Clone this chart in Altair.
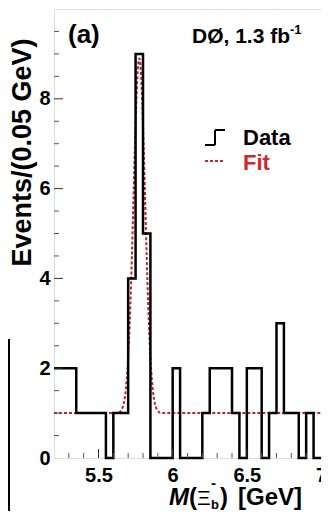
import altair as alt
import pandas as pd

# ---------------- data ----------------
bin_lo = [5.20, 5.25, 5.30, 5.35, 5.40, 5.45, 5.50, 5.55, 5.60, 5.65, 5.70, 5.75,
          5.80, 5.85, 5.90, 5.95, 6.00, 6.05, 6.10, 6.15, 6.20, 6.25, 6.30, 6.35,
          6.40, 6.45, 6.50, 6.55, 6.60, 6.65, 6.70, 6.75, 6.80, 6.85, 6.90, 6.95]
counts = [2, 2, 2, 1, 1, 1, 1, 0, 1, 1, 4, 9, 5, 0, 0, 0, 2, 0, 0, 0, 1, 2, 2, 2,
          1, 0, 2, 2, 0, 1, 3, 1, 1, 0, 1, 0]
x_end = 7.00

fit_x = [5.20, 5.60, 5.635, 5.645, 5.655, 5.665, 5.675, 5.685, 5.695, 5.705, 5.715,
         5.725, 5.735, 5.745, 5.755, 5.765, 5.775, 5.785, 5.795, 5.805, 5.815, 5.825,
         5.835, 5.845, 5.855, 5.865, 5.875, 5.885, 5.895, 5.905, 5.915, 5.95, 7.00]
fit_y = [1.00, 1.00, 1.01, 1.03, 1.07, 1.15, 1.30, 1.55, 1.96, 2.58, 3.42,
         4.47, 5.67, 6.88, 7.93, 8.65, 8.90, 8.65, 7.93, 6.88, 5.67, 4.47,
         3.42, 2.58, 1.96, 1.55, 1.30, 1.15, 1.07, 1.03, 1.01, 1.00, 1.00]

x_major = [5.5, 6.0, 6.5]
x_minor = [5.3, 5.4, 5.6, 5.7, 5.8, 5.9, 6.1, 6.2, 6.3, 6.4, 6.6, 6.7, 6.8, 6.9]
y_major = [2, 4, 6, 8]
y_minor = [0.5, 1, 1.5, 2.5, 3, 3.5, 4.5, 5, 5.5, 6.5, 7, 7.5, 8.5, 9, 9.5]
x_labels = [5.5, 6, 6.5, 7]
y_labels = [0, 2, 4, 6, 8]

# ---------------- layout ----------------
W, H = 267, 449
FONT = "Liberation Sans"
RED_LINE = "#b8262e"
RED_TEXT = "#d0282c"

hist_df = pd.DataFrame({"m": bin_lo + [x_end], "n": counts + [0]})
fit_df = pd.DataFrame({"m": fit_x, "f": fit_y})

xs = alt.Scale(domain=[5.2, 7.0], nice=False, zero=False)
ys = alt.Scale(domain=[0, 10], nice=False)

x_axis = alt.Axis(values=x_labels, labelExpr="datum.value", title=None, tickSize=0,
                  domain=False, grid=False, labelFontSize=20, labelFont=FONT,
                  labelFontWeight="bold", labelColor="black", labelPadding=7,
                  labelFlush=False, labelOverlap=False)
y_axis = alt.Axis(values=y_labels, labelExpr="datum.value", title="Events/(0.05 GeV)",
                  tickSize=0, domain=False, grid=False, labelFontSize=20, labelFont=FONT,
                  labelFontWeight="bold", labelColor="black", labelPadding=4,
                  titleFont=FONT, titleFontSize=27, titleFontWeight="bold",
                  titleColor="black", titleAngle=270, titleX=-32, titleY=143,
                  titleAlign="center", titleBaseline="middle")

hist = alt.Chart(hist_df).mark_line(interpolate="step-after", color="black",
                                    strokeWidth=2.5).encode(
    x=alt.X("m:Q", scale=xs, axis=x_axis),
    y=alt.Y("n:Q", scale=ys, axis=y_axis),
)

fit = alt.Chart(fit_df).mark_line(interpolate="monotone", color=RED_LINE,
                                  strokeWidth=2, strokeDash=[3, 2]).encode(
    x=alt.X("m:Q", scale=xs), y=alt.Y("f:Q", scale=ys))

# inward ticks
xmaj = alt.Chart(pd.DataFrame({"t": x_major})).mark_rule(color="#333", strokeWidth=1).encode(
    x=alt.X("t:Q", scale=xs), y=alt.value(H), y2=alt.value(H - 9))
xmin = alt.Chart(pd.DataFrame({"t": x_minor})).mark_rule(color="#555", strokeWidth=1).encode(
    x=alt.X("t:Q", scale=xs), y=alt.value(H), y2=alt.value(H - 5))
ymaj = alt.Chart(pd.DataFrame({"t": y_major})).mark_rule(color="#333", strokeWidth=1).encode(
    y=alt.Y("t:Q", scale=ys), x=alt.value(0), x2=alt.value(9))
ymin = alt.Chart(pd.DataFrame({"t": y_minor})).mark_rule(color="#555", strokeWidth=1).encode(
    y=alt.Y("t:Q", scale=ys), x=alt.value(0), x2=alt.value(5))

one = alt.Data(values=[{"a": 1}])


def txt(s, x, y, size, color="black", align="left", style="normal", weight="bold"):
    return alt.Chart(one).mark_text(text=s, align=align, baseline="alphabetic",
                                    font=FONT, fontSize=size, fontWeight=weight,
                                    fontStyle=style, color=color).encode(
        x=alt.value(x), y=alt.value(y))


def seg(x1, y1, x2, y2, color="black", width=2, dash=None):
    kw = dict(color=color, strokeWidth=width)
    if dash:
        kw["strokeDash"] = dash
    return alt.Chart(one).mark_rule(**kw).encode(
        x=alt.value(x1), y=alt.value(y1), x2=alt.value(x2), y2=alt.value(y2))


TB = 496  # x-title baseline (view coords)
annots = [
    txt("(a)", 14, 34, 26),
    txt("DØ, 1.3 fb", 236, 34, 21, align="right"),
    txt("-1", 236, 25, 13),
    # legend
    seg(151, 136, 161, 136), seg(161, 136, 161, 121), seg(161, 121, 171, 121),
    txt("Data", 189, 136, 22),
    seg(151, 152, 171, 152, color=RED_LINE, dash=[3, 2]),
    txt("Fit", 189, 161, 22, color=RED_TEXT),
    # x-axis title  M(Xi_b^-) [GeV]
    txt("M", 115, TB, 24, style="italic"),
    txt("(", 135, TB, 24),
    txt("Ξ", 143, TB, 21, weight="normal"),
    txt("-", 157, TB - 17, 15),
    txt("b", 157, TB + 4, 13),
    txt(")", 166, TB, 24),
    txt("[GeV]", 184, TB, 24),
]

box = alt.Chart(one).mark_rect(fill="#ffffd2", stroke="black", strokeWidth=2).encode(
    x=alt.value(-56), x2=alt.value(-45), y=alt.value(331), y2=alt.value(506))

chart = alt.layer(box, fit, hist, xmin, xmaj, ymin, ymaj, *annots).properties(
    width=W, height=H,
    autosize=alt.AutoSizeParams(type="none"),
    padding={"left": 46, "top": 1, "right": 0, "bottom": 53},
).configure_view(stroke="black", strokeWidth=2).configure(background="white")

chart.save("out.html", embed_options={"renderer": "svg", "actions": False})
